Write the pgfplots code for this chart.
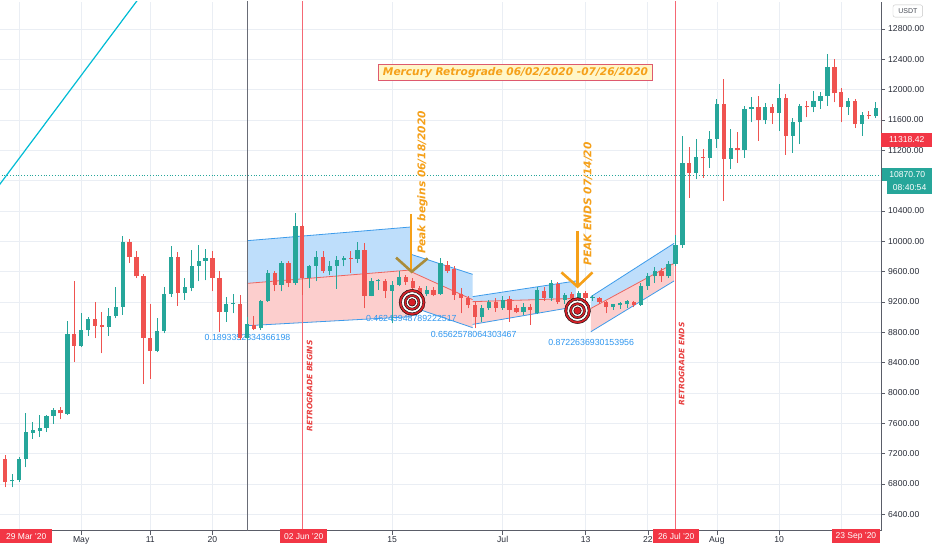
\documentclass[border=0pt]{standalone}
\usepackage{fontspec}
\setmainfont{Liberation Sans}
\newfontfamily\dejavu{DejaVu Sans}
\usepackage{pgfplots}
\usepackage{pgfplotstable}
\pgfplotsset{compat=1.18}

\definecolor{cgreen}{RGB}{38,166,154}
\definecolor{cred}{RGB}{239,83,80}
\definecolor{tvred}{RGB}{242,54,69}
\definecolor{gridc}{RGB}{234,238,244}
\definecolor{axisc}{RGB}{90,93,104}
\definecolor{txt}{RGB}{40,44,56}
\definecolor{chblue}{RGB}{60,155,235}
\definecolor{chbluef}{RGB}{190,222,251}
\definecolor{chred}{RGB}{236,100,95}
\definecolor{chredf}{RGB}{252,206,205}
\definecolor{orng}{RGB}{245,160,25}
\definecolor{olivec}{RGB}{170,140,58}
\definecolor{cyanl}{RGB}{0,188,212}
\definecolor{tgt}{RGB}{214,32,40}
\definecolor{boxfill}{RGB}{255,246,200}
\definecolor{boxdraw}{RGB}{222,90,110}
\definecolor{pearson}{RGB}{45,150,240}
\definecolor{retro}{RGB}{232,62,62}

\pgfplotstableread{
d o h l c
23 6836 6933 6756 6850
24 6850 7154 6830 7132
25 7132 7737 7021 7485
26 7476 7617 7396 7511
27 7503 7706 7418 7538
28 7538 7706 7485 7692
29 7697 7803 7595 7776
31 7728 8955 7710 8778
33 8619 9061 8602 8827
34 8827 9008 8756 8977
37 8871 9127 8756 9021
38 9021 9396 8986 9140
39 9140 10068 9030 9988
44 8558 8986 8536 8818
45 8818 9396 8787 9308
46 9308 9944 9264 9789
48 9317 9516 9229 9392
49 9383 9891 9339 9679
50 9679 9957 9471 9745
51 9745 9900 9485 9781
54 9074 9264 8942 9171
55 9171 9308 9052 9184
57 8721 9008 8700 8906
59 8853 9229 8830 9216
60 9216 9626 9207 9577
62 9427 9736 9339 9710
64 9449 10377 9427 10209
66 9516 9692 9383 9679
67 9679 9869 9471 9789
69 9613 9736 9560 9679
70 9679 9803 9374 9750
71 9750 9803 9670 9781
73 9771 9992 9714 9891
75 9282 9516 9273 9471
76 9471 9502 9361 9485
78 9348 9480 8920 9427
79 9427 9604 9405 9525
83 9304 9405 9273 9361
85 9304 9781 9295 9714
91 9008 9162 8942 9127
92 9118 9229 9096 9198
94 9127 9273 9096 9229
97 9065 9184 9030 9140
99 9051 9403 9040 9359
101 9249 9491 9220 9447
103 9229 9320 9180 9295
105 9249 9350 9200 9324
107 9252 9290 9220 9265
110 9139 9180 9100 9170
111 9160 9200 9110 9183
112 9170 9230 9120 9214
114 9162 9449 9150 9405
115 9405 9582 9360 9537
116 9537 9656 9450 9604
118 9537 9736 9515 9701
119 9701 10089 9670 9948
120 9948 11392 9913 11038
122 10906 11348 10818 11114
124 11105 11458 10970 11348
125 11348 11877 11237 11811
127 11083 11480 10950 11228
129 11202 11789 11105 11745
130 11745 11899 11568 11767
132 11604 11820 11546 11767
134 11692 12076 11458 11891
136 11392 11626 11171 11568
137 11568 11811 11281 11789
139 11767 11988 11700 11855
140 11855 11966 11745 11921
141 11921 12473 11789 12297
144 11767 11890 11670 11855
146 11546 11700 11392 11670
148 11652 11833 11625 11758
}\greencandles

\pgfplotstableread{
d o h l c
21 7260 7290 7090 7130
22 7130 7180 6756 6826
30 7776 7816 7653 7732
32 8778 9471 8412 8619
35 8977 9207 8721 8889
36 8898 9065 8522 8871
40 9988 10037 9714 9798
41 9798 9869 9516 9538
42 9547 9573 8116 8730
43 8730 9171 8191 8558
47 9789 9856 9154 9317
52 9781 9869 9339 9516
53 9516 9604 8809 9074
56 9176 9295 8700 8721
58 8898 9021 8830 8845
61 9577 9604 9339 9427
63 9710 9736 9392 9449
65 10209 10222 9290 9516
68 9789 9869 9582 9613
72 9781 9878 9582 9767
74 9891 9979 9118 9282
77 9480 9502 9251 9348
80 9525 9560 9427 9463
81 9471 9516 9339 9383
82 9383 9405 9295 9304
84 9361 9392 9273 9295
86 9692 9736 9582 9613
87 9639 9670 9229 9295
88 9304 9383 9052 9251
89 9251 9273 9118 9162
90 9162 9207 8853 9008
93 9198 9251 9074 9127
95 9238 9273 8942 9096
96 9118 9162 9052 9065
98 9140 9180 8898 9090
100 9346 9400 9220 9249
102 9434 9470 9180 9205
104 9302 9330 9200 9249
106 9315 9340 9200 9249
108 9258 9270 9180 9196
109 9196 9220 9052 9139
113 9205 9220 9130 9161
117 9604 9648 9470 9537
121 11038 11246 10575 10906
123 11114 11215 10840 11096
126 11811 12142 10531 11083
128 11237 11436 11040 11202
131 11767 11921 11325 11604
133 11767 11811 11546 11692
135 11891 11944 11140 11392
138 11789 11855 11635 11767
142 12297 12407 11833 11952
143 11966 12023 11568 11767
145 11855 11877 11493 11546
147 11670 11723 11615 11652
149 11758 11790 11300 11318
}\redcandles

\begin{document}
\begin{tikzpicture}[x=1pt,y=1pt]
\useasboundingbox (0,0) rectangle (932,550);
\fill[white] (0,0) rectangle (932,550);
\begin{axis}[
  at={(0,25.5)}, anchor=south west, scale only axis,
  width=881pt, height=529pt,
  xmin=21.25, xmax=148.75, ymin=6185, ymax=13161,
  axis x line*=bottom, axis y line*=right,
  axis line style={draw=axisc, line width=0.8pt},
  xtick={24,33,43,52,65,78,94,106,115,125,134,143},
  xticklabels={,May,11,20,,15,Jul,13,22,Aug,10,},
  ytick={6400,6800,...,12800},
  scaled y ticks=false,
  grid=major, major grid style={draw=gridc, line width=0.8pt},
  tick align=outside, major tick length=4pt,
  tick style={draw=axisc, line width=0.6pt},
  yticklabel style={/pgf/number format/fixed, /pgf/number format/fixed zerofill,
    /pgf/number format/precision=2, /pgf/number format/1000 sep={},
    /pgf/number format/assume math mode=true,
    font=\fontsize{8.6}{10}\selectfont, text=txt, anchor=west, inner sep=0pt, xshift=3pt},
  xticklabel style={font=\fontsize{8.6}{10}\selectfont, text=txt, inner sep=0pt, anchor=north,
    text height=6.2pt, text depth=0pt, yshift=-1pt},
]
% regression channels
\addplot[draw=none, fill=chbluef] coordinates {(57,10009) (80.74,10190) (80.74,9623) (57,9446)};
\addplot[draw=none, fill=chredf] coordinates {(57,9446) (80.74,9623) (80.74,9007) (57,8888)};
\addplot[draw=none, fill=chbluef] coordinates {(80.74,9829) (89.65,9565) (89.65,9231) (80.74,9600)};
\addplot[draw=none, fill=chredf] coordinates {(80.74,9600) (89.65,9231) (89.65,8862) (80.74,9139)};
\addplot[draw=none, fill=chbluef] coordinates {(89.65,9271) (104.6,9478) (104.6,9248) (89.65,9205)};
\addplot[draw=none, fill=chredf] coordinates {(89.65,9205) (104.6,9248) (104.6,9139) (89.65,8905)};
\addplot[draw=none, fill=chbluef] coordinates {(106.77,9271) (118.8,9974) (118.8,9710) (106.77,9116)};
\addplot[draw=none, fill=chredf] coordinates {(106.77,9116) (118.8,9710) (118.8,9478) (106.77,8809)};
% channel edges
\addplot[chblue, line width=0.8pt] coordinates {(57,10009) (80.74,10190)};
\addplot[chblue, line width=0.8pt] coordinates {(57,8888) (80.74,9007)};
\addplot[chred, line width=0.8pt] coordinates {(57,9446) (80.74,9623)};
\addplot[chblue, line width=0.8pt] coordinates {(80.74,9829) (89.65,9565)};
\addplot[chblue, line width=0.8pt] coordinates {(80.74,9139) (89.65,8862)};
\addplot[chred, line width=0.8pt] coordinates {(80.74,9600) (89.65,9231)};
\addplot[chblue, line width=0.8pt] coordinates {(89.65,9271) (104.6,9478)};
\addplot[chblue, line width=0.8pt] coordinates {(89.65,8905) (104.6,9139)};
\addplot[chred, line width=0.8pt] coordinates {(89.65,9205) (104.6,9248)};
\addplot[chblue, line width=0.8pt] coordinates {(106.77,9271) (118.8,9974)};
\addplot[chblue, line width=0.8pt] coordinates {(106.77,8809) (118.8,9478)};
\addplot[chred, line width=0.8pt] coordinates {(106.77,9116) (118.8,9710)};
% vertical lines
\addplot[draw={rgb,255:red,105;green,108;blue,118}, line width=0.7pt] coordinates {(57,6000) (57,13500)};
\addplot[draw=tvred!75!white, line width=0.9pt] coordinates {(65,6000) (65,13500)};
\addplot[draw=tvred!75!white, line width=0.9pt] coordinates {(119,6000) (119,13500)};
% pearson values
\node[font=\fontsize{8.8}{10}\selectfont, text=pearson] at (axis cs:57.07,8730) {0.1893352334366198};
\node[font=\fontsize{8.8}{10}\selectfont, text=pearson] at (axis cs:80.78,8985) {0.46243948789222517};
\node[font=\fontsize{8.8}{10}\selectfont, text=pearson] at (axis cs:89.8,8774) {0.6562578064303467};
\node[font=\fontsize{8.8}{10}\selectfont, text=pearson] at (axis cs:106.8,8668) {0.8722636930153956};
% current price dotted line
\addplot[cgreen, line width=0.6pt, dash pattern=on 0.8pt off 2pt] coordinates {(15,10870.7) (150,10870.7)};
% cyan trend line
\addplot[cyanl, line width=1.2pt] coordinates {(18,10360) (45,13651)};
% candles: wicks
\addplot[draw=none, mark=none, error bars/.cd, y dir=plus, y explicit, error mark=none,
  error bar style={draw=cgreen, line width=1pt}]
  table[x=d, y=l, y error expr=\thisrow{h}-\thisrow{l}] {\greencandles};
\addplot[draw=none, mark=none, error bars/.cd, y dir=plus, y explicit, error mark=none,
  error bar style={draw=cred, line width=1pt}]
  table[x=d, y=l, y error expr=\thisrow{h}-\thisrow{l}] {\redcandles};
% candles: bodies
\addplot[draw=none, mark=none, error bars/.cd, y dir=plus, y explicit, error mark=none,
  error bar style={draw=cgreen, line width=4.3pt}]
  table[x=d, y=o, y error expr=\thisrow{c}-\thisrow{o}] {\greencandles};
\addplot[draw=none, mark=none, error bars/.cd, y dir=plus, y explicit, error mark=none,
  error bar style={draw=cred, line width=4.3pt}]
  table[x=d, y=c, y error expr=\thisrow{o}-\thisrow{c}] {\redcandles};
% targets
\addplot[only marks, mark=*, mark size=13pt, mark options={fill=tgt, draw=none}] coordinates {(80.89,9196) (104.83,9086)};
\addplot[only marks, mark=*, mark size=10.5pt, mark options={fill=white, draw=none}] coordinates {(80.89,9196) (104.83,9086)};
\addplot[only marks, mark=*, mark size=8pt, mark options={fill=tgt, draw=none}] coordinates {(80.89,9196) (104.83,9086)};
\addplot[only marks, mark=*, mark size=5.7pt, mark options={fill=white, draw=none}] coordinates {(80.89,9196) (104.83,9086)};
\addplot[only marks, mark=*, mark size=3.8pt, mark options={fill=tgt, draw=none}] coordinates {(80.89,9196) (104.83,9086)};
% arrows
\addplot[orng, line width=2.8pt] coordinates {(80.74,10361) (80.74,9600)};
\addplot[olivec, line width=2.6pt] coordinates {(78.57,9785) (80.83,9600) (83.14,9776)};
\addplot[orng, line width=2.8pt] coordinates {(104.83,10137) (104.83,9429)};
\addplot[orng, line width=2.6pt] coordinates {(102.5,9591) (104.83,9403) (107.0,9591)};
\end{axis}
% annotations
\node[rotate=90, text=retro, font=\dejavu\bfseries\itshape\fontsize{7.5}{9}\selectfont] at (309.7,164) {RETROGRADE BEGINS};
\node[rotate=90, text=retro, font=\dejavu\bfseries\itshape\fontsize{7.5}{9}\selectfont] at (681.7,186) {RETROGRADE ENDS};
\node[rotate=90, text=orng, font=\dejavu\bfseries\itshape\fontsize{10.6}{12}\selectfont] at (422.5,367.5) {Peak begins 06/18/2020};
\node[rotate=90, text=orng, font=\dejavu\bfseries\itshape\fontsize{10.6}{12}\selectfont] at (588,346) {PEAK ENDS 07/14/20};
\node[draw=boxdraw, fill=boxfill, line width=0.8pt, minimum width=274pt, minimum height=16.7pt, inner sep=0pt,
  text=orng, font=\dejavu\bfseries\itshape\fontsize{10.6}{12}\selectfont] at (515.5,477.7) {Mercury Retrograde 06/02/2020 -07/26/2020};
% right price labels
\node[fill=tvred, text=white, font=\fontsize{8.6}{10}\selectfont, minimum width=51pt, minimum height=14pt, inner sep=0pt, anchor=west] at (881,410.3) {11318.42};
\node[fill=cgreen, text=white, font=\fontsize{8.6}{10}\selectfont, minimum width=50pt, minimum height=13.2pt, inner sep=0pt, anchor=west] at (882,375.8) {10870.70};
\node[fill=cgreen, text=white, font=\fontsize{8.6}{10}\selectfont, minimum width=45.3pt, minimum height=13.2pt, inner sep=0pt, anchor=west] at (886.7,362.2) {08:40:54};
\node[draw=gray!45, rounded corners=2pt, text=txt!85, font=\fontsize{7}{8}\selectfont, minimum width=29.6pt, minimum height=12.2pt, inner sep=0pt] at (907.8,539) {USDT};
% bottom date labels
\node[fill=tvred, text=white, font=\fontsize{8.5}{10}\selectfont, minimum width=52pt, minimum height=14pt, inner sep=0pt] at (26.2,13.7) {29 Mar '20};
\node[fill=tvred, text=white, font=\fontsize{8.5}{10}\selectfont, minimum width=47.4pt, minimum height=14pt, inner sep=0pt] at (303.7,13.7) {02 Jun '20};
\node[fill=tvred, text=white, font=\fontsize{8.5}{10}\selectfont, minimum width=46.4pt, minimum height=14pt, inner sep=0pt] at (676.2,13.7) {26 Jul '20};
\node[fill=tvred, text=white, font=\fontsize{8.5}{10}\selectfont, minimum width=48.3pt, minimum height=14pt, inner sep=0pt] at (855.9,13.7) {23 Sep '20};
\end{tikzpicture}
\end{document}
